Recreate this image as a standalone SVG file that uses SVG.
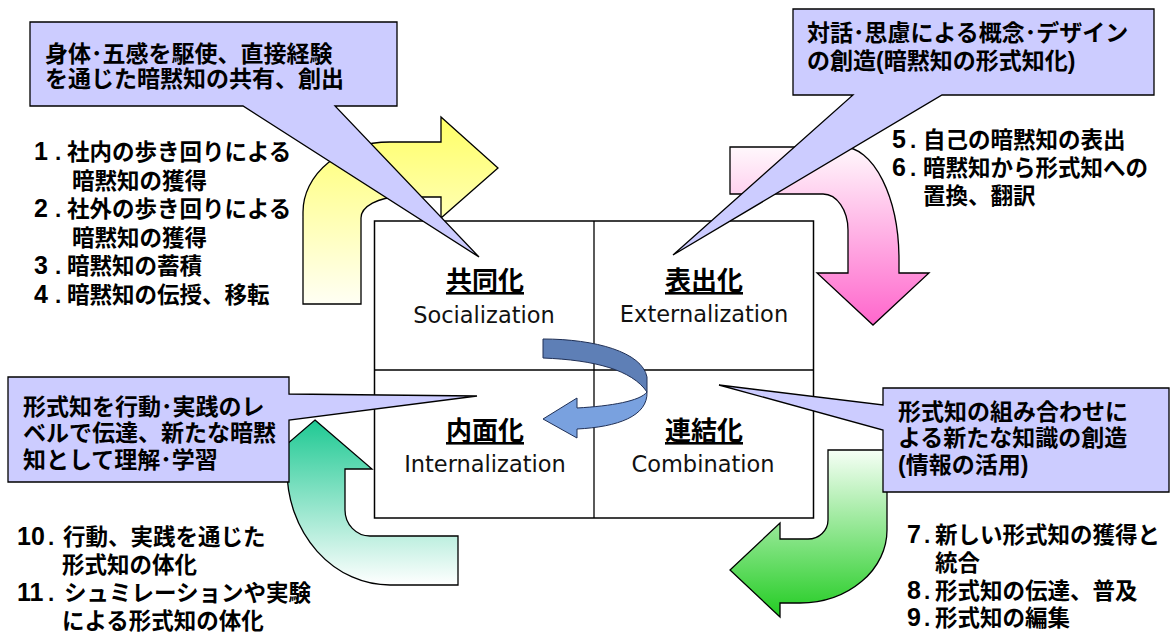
<svg xmlns="http://www.w3.org/2000/svg" width="1175" height="637" viewBox="0 0 1175 637" xml:lang="ja">
<defs>
<linearGradient id="gY" x1="0" y1="0" x2="0" y2="1"><stop offset="0" stop-color="#FFFF66"/><stop offset="1" stop-color="#FFFFF4"/></linearGradient>
<linearGradient id="gP" x1="0" y1="0" x2="0" y2="1"><stop offset="0" stop-color="#FFF8FC"/><stop offset="1" stop-color="#FF66CC"/></linearGradient>
<linearGradient id="gG" x1="0" y1="0" x2="0" y2="1"><stop offset="0" stop-color="#F6FFF6"/><stop offset="1" stop-color="#22CC22"/></linearGradient>
<linearGradient id="gT" x1="0" y1="0" x2="0" y2="1"><stop offset="0" stop-color="#1FC993"/><stop offset="1" stop-color="#FFFFFF"/></linearGradient>
</defs>
<style>
.arr{stroke:#000;stroke-width:1.3;stroke-linejoin:miter}
.call{fill:#CCCCFF;stroke:#000;stroke-width:1.3;stroke-linejoin:miter}
.jp{font-family:'Liberation Sans','Noto Sans CJK JP','Noto Sans CJK SC',sans-serif;font-weight:bold;fill:#000}
.c{font-size:23px}
.l{font-size:22.5px}
.n{font-size:25px}
.h{font-size:26px;text-anchor:middle;text-decoration:underline}
.en{font-family:'DejaVu Sans',sans-serif;font-size:22.5px;fill:#111;text-anchor:middle}
</style>
<rect width="1175" height="637" fill="#fff"/>
<g id="connectors">
<path id="arrow-socialization" class="arr" fill="url(#gY)" d="M303,304 L303,212 A87,70 0 0 1 390,142 L441,142 L441,117 L498,168 L441,218 L441,197 L400,197 A39,21 0 0 0 361,218 L361,304 Z"/>
<path id="arrow-externalization" class="arr" fill="url(#gP)" d="M730,147 L843,147 A56,113 0 0 1 899,260 L899,273 L929,273 L873,325 L817,273 L848,273 L848,230 A25,36 0 0 0 823,194 L730,194 Z"/>
<path id="arrow-combination" class="arr" fill="url(#gG)" d="M828,450 L887,450 L887,530 A87,73 0 0 1 800,603 L780,603 L780,617 L730,570 L780,523 L780,539 L808,539 A20,19 0 0 0 828,520 Z"/>
<path id="arrow-internalization" class="arr" fill="url(#gT)" d="M315,420 L372,469 L345,469 L345,510 A25,26 0 0 0 370,536 L458,536 L458,585 L390,585 A103,115 0 0 1 287,470 L287,469 L258,469 Z"/>
</g>
<g id="matrix">
<rect x="374.5" y="221" width="439" height="297" fill="#fff" stroke="#000" stroke-width="1.5"/>
<line x1="594" y1="221" x2="594" y2="518" stroke="#000" stroke-width="1.3"/>
<line x1="374.5" y1="370" x2="813.5" y2="370" stroke="#000" stroke-width="1.3"/>
</g>
<g id="center-arrow">
<path fill="#5E7FB6" stroke="#1F2F55" stroke-width="1" d="M543,339 C595,339 642,352 647,377 L647,392 C632,370 595,360 543,358 Z"/>
<path fill="#79A1DF" stroke="#1F2F55" stroke-width="1" d="M647,392 C648,416 618,427 577,429 L577,438 L543,419 L577,398 L577,408 C612,406 640,401 647,392 Z"/>
</g>
<g id="node-socialization">
<text class="jp h" x="485" y="290">共同化</text>
<text class="en" x="484" y="323">Socialization</text>
</g>
<g id="node-externalization">
<text class="jp h" x="704" y="290">表出化</text>
<text class="en" x="704" y="322">Externalization</text>
</g>
<g id="node-internalization">
<text class="jp h" x="485" y="440">内面化</text>
<text class="en" x="485" y="472">Internalization</text>
</g>
<g id="node-combination">
<text class="jp h" x="704" y="440">連結化</text>
<text class="en" x="703" y="472">Combination</text>
</g>
<g id="list-socialization">
<text class="jp l"><tspan class="n" x="34" y="160">1</tspan><tspan x="55" y="160">.</tspan><tspan x="67" y="160">社内の歩き回りによる</tspan><tspan x="72" y="188.5">暗黙知の獲得</tspan><tspan class="n" x="34" y="217">2</tspan><tspan x="55" y="217">.</tspan><tspan x="67" y="217">社外の歩き回りによる</tspan><tspan x="72" y="245.5">暗黙知の獲得</tspan><tspan class="n" x="34" y="274">3</tspan><tspan x="55" y="274">.</tspan><tspan x="67" y="274">暗黙知の蓄積</tspan><tspan class="n" x="34" y="302.5">4</tspan><tspan x="55" y="302.5">.</tspan><tspan x="67" y="302.5">暗黙知の伝授、移転</tspan></text>
</g>
<g id="list-externalization">
<text class="jp l"><tspan class="n" x="892" y="148">5</tspan><tspan x="910" y="148">.</tspan><tspan x="923" y="148">自己の暗黙知の表出</tspan><tspan class="n" x="892" y="176">6</tspan><tspan x="910" y="176">.</tspan><tspan x="923" y="176">暗黙知から形式知への</tspan><tspan x="923" y="204">置換、翻訳</tspan></text>
</g>
<g id="list-combination">
<text class="jp l"><tspan class="n" x="907" y="543">7</tspan><tspan x="924" y="543">.</tspan><tspan x="935" y="543">新しい形式知の獲得と</tspan><tspan x="935" y="571">統合</tspan><tspan class="n" x="907" y="599">8</tspan><tspan x="924" y="599">.</tspan><tspan x="935" y="599">形式知の伝達、普及</tspan><tspan class="n" x="907" y="626">9</tspan><tspan x="924" y="626">.</tspan><tspan x="935" y="626">形式知の編集</tspan></text>
</g>
<g id="list-internalization">
<text class="jp l"><tspan class="n" x="17" y="545">10</tspan><tspan x="48" y="545">.</tspan><tspan x="63" y="545">行動、実践を通じた</tspan><tspan x="62" y="573">形式知の体化</tspan><tspan class="n" x="17" y="601">11</tspan><tspan x="48" y="601">.</tspan><tspan x="64" y="601">シュミレーションや実験</tspan><tspan x="62" y="629">による形式知の体化</tspan></text>
</g>
<g id="callout-socialization">
<path class="call" d="M30,22 L397,22 L397,106 L335,106 L479,257 L243,106 L30,106 Z"/>
<text class="jp c"><tspan x="45" y="62">身体･五感を駆使、直接経験</tspan><tspan x="45" y="87">を通じた暗黙知の共有、創出</tspan></text>
</g>
<g id="callout-externalization">
<path class="call" d="M793,9 L1154,9 L1154,95 L942,95 L673,255 L853,95 L793,95 Z"/>
<text class="jp c"><tspan x="807" y="41">対話･思慮による概念･デザイン</tspan><tspan x="807" y="69">の創造(暗黙知の形式知化)</tspan></text>
</g>
<g id="callout-internalization">
<path class="call" d="M8,377 L289,377 L289,394 L477,396 L289,420 L289,482 L8,482 Z"/>
<text class="jp c"><tspan x="23" y="415">形式知を行動･実践のレ</tspan><tspan x="23" y="441">ベルで伝達、新たな暗黙</tspan><tspan x="23" y="468">知として理解･学習</tspan></text>
</g>
<g id="callout-combination">
<path class="call" d="M883,388 L1169,388 L1169,492 L883,492 L883,430 L719,385 L883,405 Z"/>
<text class="jp c"><tspan x="898" y="420">形式知の組み合わせに</tspan><tspan x="898" y="446">よる新たな知識の創造</tspan><tspan x="898" y="473">(情報の活用)</tspan></text>
</g>
</svg>
